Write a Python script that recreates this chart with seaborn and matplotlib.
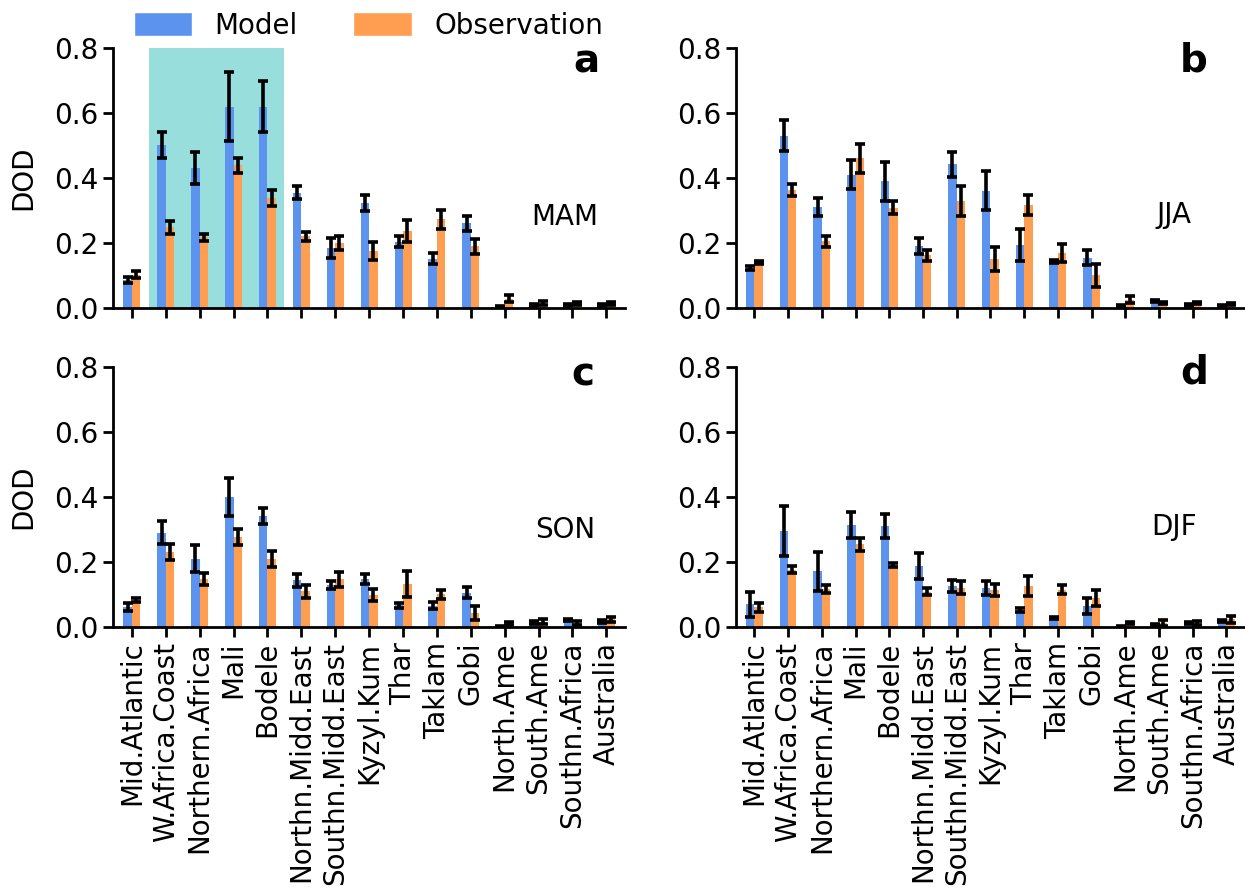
import numpy as np
import pandas as pd
import seaborn as sns
import matplotlib.pyplot as plt
from matplotlib.patches import Patch

regions = ["Mid.Atlantic", "W.Africa.Coast", "Northern.Africa", "Mali", "Bodele",
           "Northn.Midd.East", "Southn.Midd.East", "Kyzyl.Kum", "Thar", "Taklam",
           "Gobi", "North.Ame", "South.Ame", "Southn.Africa", "Australia"]

mam_model = [0.085, 0.50, 0.43, 0.62, 0.62, 0.355, 0.184, 0.323, 0.204, 0.152, 0.26, 0.003, 0.008, 0.008, 0.01]
mam_model_err = [0.009, 0.04, 0.05, 0.105, 0.08, 0.02, 0.03, 0.024, 0.017, 0.018, 0.022, 0.002, 0.003, 0.003, 0.003]
mam_obs = [0.103, 0.248, 0.217, 0.439, 0.338, 0.22, 0.2, 0.175, 0.236, 0.273, 0.19, 0.029, 0.015, 0.013, 0.014]
mam_obs_err = [0.011, 0.02, 0.011, 0.024, 0.025, 0.013, 0.022, 0.028, 0.034, 0.029, 0.023, 0.012, 0.007, 0.004, 0.005]

jja_model = [0.124, 0.53, 0.31, 0.41, 0.39, 0.19, 0.442, 0.36, 0.194, 0.142, 0.155, 0.005, 0.022, 0.008, 0.006]
jja_model_err = [0.006, 0.047, 0.027, 0.045, 0.06, 0.024, 0.038, 0.06, 0.048, 0.005, 0.022, 0.003, 0.004, 0.003, 0.003]
jja_obs = [0.141, 0.363, 0.205, 0.46, 0.308, 0.162, 0.33, 0.152, 0.318, 0.168, 0.10, 0.026, 0.016, 0.014, 0.012]
jja_obs_err = [0.005, 0.018, 0.018, 0.046, 0.02, 0.017, 0.046, 0.037, 0.031, 0.028, 0.036, 0.012, 0.003, 0.003, 0.003]

son_model = [0.062, 0.29, 0.21, 0.40, 0.342, 0.144, 0.13, 0.147, 0.067, 0.065, 0.106, 0.002, 0.013, 0.02, 0.017]
son_model_err = [0.013, 0.036, 0.041, 0.058, 0.025, 0.02, 0.012, 0.016, 0.008, 0.011, 0.018, 0.002, 0.004, 0.003, 0.004]
son_obs = [0.083, 0.23, 0.147, 0.276, 0.21, 0.11, 0.147, 0.098, 0.133, 0.10, 0.044, 0.01, 0.016, 0.013, 0.023]
son_obs_err = [0.007, 0.024, 0.018, 0.025, 0.024, 0.02, 0.023, 0.018, 0.04, 0.013, 0.022, 0.005, 0.007, 0.006, 0.009]

djf_model = [0.07, 0.295, 0.172, 0.314, 0.31, 0.188, 0.125, 0.12, 0.053, 0.027, 0.065, 0.002, 0.006, 0.013, 0.017]
djf_model_err = [0.038, 0.077, 0.06, 0.039, 0.037, 0.041, 0.018, 0.022, 0.006, 0.003, 0.024, 0.002, 0.003, 0.003, 0.003]
djf_obs = [0.06, 0.176, 0.116, 0.254, 0.19, 0.109, 0.12, 0.113, 0.126, 0.115, 0.09, 0.012, 0.013, 0.013, 0.023]
djf_obs_err = [0.014, 0.011, 0.013, 0.02, 0.007, 0.012, 0.02, 0.018, 0.031, 0.014, 0.024, 0.004, 0.009, 0.006, 0.011]

sources = ["Model", "Observation"]
colors = {"Model": "#5b93ef", "Observation": "#ff9e50"}

sns.set_style("ticks", {"axes.edgecolor": "black", "xtick.color": "black",
                        "ytick.color": "black", "text.color": "black",
                        "axes.labelcolor": "black"})
plt.rcParams["font.family"] = ["DejaVu Sans"]
plt.rcParams["font.size"] = 20

fig = plt.figure(figsize=(12.45, 8.94), dpi=100)

panels = [
    ("a", "MAM", mam_model, mam_model_err, mam_obs, mam_obs_err, [0.091, 0.6555, 0.411, 0.2908], (0.924, 0.905), (0.883, 0.35)),
    ("b", "JJA", jja_model, jja_model_err, jja_obs, jja_obs_err, [0.591, 0.6555, 0.409, 0.2908], (0.90, 0.908), (0.86, 0.358)),
    ("c", "SON", son_model, son_model_err, son_obs, son_obs_err, [0.091, 0.2987, 0.411, 0.2908], (0.918, 0.93), (0.883, 0.373)),
    ("d", "DJF", djf_model, djf_model_err, djf_obs, djf_obs_err, [0.591, 0.2987, 0.409, 0.2908], (0.90, 0.938), (0.86, 0.385)),
]

for letter, season, mod, mod_err, obs, obs_err, pos, letter_xy, season_xy in panels:
    ax = fig.add_axes(pos)
    df = pd.DataFrame({
        "region": regions * 2,
        "source": ["Model"] * len(regions) + ["Observation"] * len(regions),
        "value": list(mod) + list(obs),
    })
    if letter == "a":
        # highlighted source regions
        ax.axvspan(0.5, 4.5, color="#98dedc", zorder=0, lw=0)
    sns.barplot(data=df, x="region", y="value", hue="source", hue_order=sources,
                order=regions, palette=colors, saturation=1, width=0.5,
                errorbar=None, linewidth=0, legend=False, ax=ax, zorder=2)
    bar_conts = list(ax.containers)
    for cont, err in zip(bar_conts, [mod_err, obs_err]):
        xs = [p.get_x() + p.get_width() / 2 for p in cont.patches]
        hs = [p.get_height() for p in cont.patches]
        ax.errorbar(xs, hs, yerr=err, fmt="none", ecolor="black",
                    elinewidth=2.6, capsize=3.3, capthick=2.6, zorder=3)

    ax.set_ylim(0, 0.8)
    ax.set_yticks([0.0, 0.2, 0.4, 0.6, 0.8])
    ax.set_xlim(-0.55, 14.55)
    sns.despine(ax=ax)
    for s in ["left", "bottom"]:
        ax.spines[s].set_linewidth(2)
    ax.tick_params(axis="both", length=7, width=2, labelsize=20)
    ax.set_xlabel("")
    if letter in ("a", "c"):
        ax.set_ylabel("DOD", fontsize=20, labelpad=12)
    else:
        ax.set_ylabel("")
    if letter in ("a", "b"):
        ax.tick_params(axis="x", labelbottom=False)
    else:
        ax.tick_params(axis="x", rotation=90)
    ax.text(*letter_xy, letter, transform=ax.transAxes, fontsize=28,
            fontweight="bold", ha="center", va="baseline")
    ax.text(*season_xy, season, transform=ax.transAxes, fontsize=20,
            ha="center", va="center")

handles = [Patch(facecolor=colors[s], label=s) for s in sources]
fig.legend(handles=handles, loc="upper center", bbox_to_anchor=(0.296, 1.015),
           ncol=2, frameon=False, fontsize=20, handlelength=2.1,
           handleheight=0.9, columnspacing=2.0, handletextpad=0.8)

fig.savefig("out.png", dpi=100)
